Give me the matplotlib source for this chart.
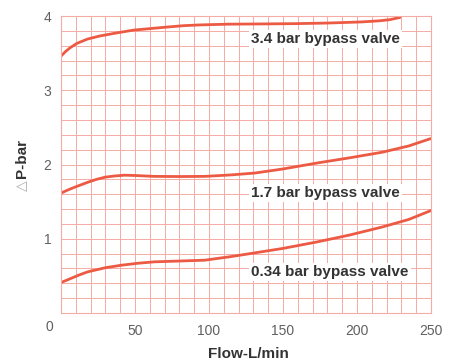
import numpy as np
import matplotlib
matplotlib.use("Agg")
import matplotlib.pyplot as plt

plt.rcParams['font.family'] = ['Liberation Sans', 'DejaVu Sans']

# Data
flow_34 = [0, 3, 6, 10.6, 18, 26, 37, 49, 60, 71, 83, 94, 113, 135, 158, 180, 203, 215, 222, 229]
dp_34 = [3.46, 3.52, 3.57, 3.63, 3.69, 3.73, 3.77, 3.81, 3.83, 3.85, 3.87, 3.88, 3.89, 3.893, 3.897, 3.905, 3.92, 3.935, 3.95, 3.98]

flow_17 = [0, 5, 10, 18, 24, 30, 36, 43, 50, 63, 80, 97, 115, 131, 150, 173, 195, 217, 235, 250]
dp_17 = [1.615, 1.66, 1.70, 1.76, 1.80, 1.83, 1.845, 1.856, 1.852, 1.84, 1.838, 1.84, 1.86, 1.885, 1.94, 2.02, 2.09, 2.165, 2.25, 2.35]

flow_034 = [0, 6, 12, 18, 30, 41, 52, 63, 80, 97, 115, 131, 150, 173, 195, 217, 235, 250]
dp_034 = [0.41, 0.46, 0.51, 0.554, 0.61, 0.644, 0.67, 0.689, 0.70, 0.711, 0.76, 0.81, 0.87, 0.957, 1.05, 1.158, 1.26, 1.38]

labels = ["3.4 bar bypass valve", "1.7 bar bypass valve", "0.34 bar bypass valve"]
label_pos = [(128.5, 3.69), (128.5, 1.62), (128.5, 0.55)]

x_ticks = [50, 100, 150, 200, 250]
y_ticks = [1, 2, 3, 4]

line_color = '#ec5a44'
grid_color = '#f5aca4'
text_dark = '#333333'
tick_gray = '#606060'

fig = plt.figure(figsize=(4.58, 3.61), dpi=100)
ax = fig.add_axes([61/458, 1-313/361, 370/458, 297/361])

ax.set_xlim(0, 250)
ax.set_ylim(0, 4)
ax.set_xticks(x_ticks)
ax.set_yticks(y_ticks)
ax.set_xticks(np.arange(0, 251, 10), minor=True)
ax.set_yticks(np.arange(0, 4.01, 0.2), minor=True)
ax.grid(which='both', color=grid_color, linewidth=0.7)
ax.set_axisbelow(True)
ax.tick_params(which='both', length=0)
ax.tick_params(axis='x', pad=8, labelsize=10, labelcolor=tick_gray)
ax.tick_params(axis='y', pad=7, labelsize=10, labelcolor=tick_gray)
for s in ax.spines.values():
    s.set_color(grid_color)
    s.set_linewidth(0.8)

for fx, fy in [(flow_34, dp_34), (flow_17, dp_17), (flow_034, dp_034)]:
    ax.plot(fx, fy, color=line_color, linewidth=2.0, solid_capstyle='round')

for lab, (lx, ly) in zip(labels, label_pos):
    ax.text(lx, ly, lab, ha='left', va='center', fontsize=11, fontweight='bold',
            color=text_dark,
            bbox=dict(facecolor='white', edgecolor='none', pad=1.5))

ax.annotate("0", xy=(0, 0), xycoords='axes fraction', xytext=(-12*0.72, -14*0.72),
            textcoords='offset points', ha='center', va='center', fontsize=10,
            color=tick_gray)

fig.text(248/458, 1-354/361, "Flow-L/min", ha='center', va='center', fontsize=11,
         fontweight='bold', color=text_dark)
fig.text(22/458, 1-158/361, "P-bar", rotation=90, ha='center', va='center', fontsize=11,
         fontweight='bold', color=text_dark)
fig.text(22/458, 1-186/361, "△", rotation=90, ha='center', va='center', fontsize=10,
         color='#aaaaaa', family=['DejaVu Sans'])

fig.savefig("out.png", dpi=100)
